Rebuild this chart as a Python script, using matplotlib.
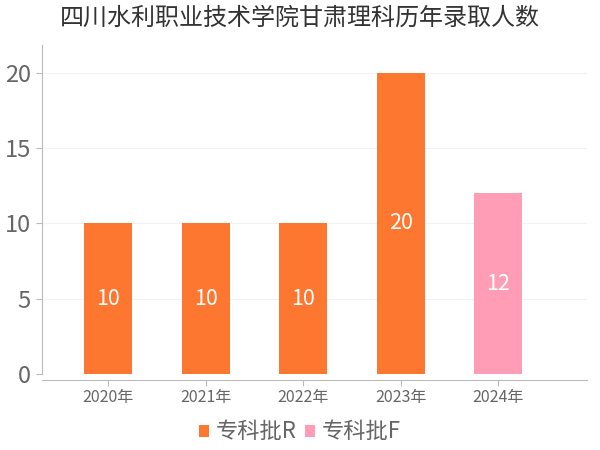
import matplotlib
matplotlib.use('Agg')
from matplotlib import pyplot as plt
from matplotlib.patches import Patch

plt.rcParams['font.family'] = ['Noto Sans CJK SC', 'DejaVu Sans']

years = ['2020年', '2021年', '2022年', '2023年', '2024年']
values = [10, 10, 10, 20, 12]
batches = ['专科批R', '专科批R', '专科批R', '专科批R', '专科批F']
colors = {'专科批R': '#FE7731', '专科批F': '#FF9DB6'}

fig = plt.figure(figsize=(6, 4.5), dpi=100)
ax = fig.add_axes([0.07, 0.169, 0.908, 0.731])

x = list(range(len(years)))
bar_colors = [colors[b] for b in batches]
bars = ax.bar(x, values, width=0.49, color=bar_colors, zorder=3)

for rect, v in zip(bars, values):
    ax.text(rect.get_x() + rect.get_width() / 2, v / 2, str(v),
            ha='center', va='center', color='white', fontsize=15.5, zorder=4)

ax.set_xlim(-0.68, 4.91)
ax.set_ylim(0, 21.86)
ax.set_yticks([0, 5, 10, 15, 20])
ax.set_xticks(x)
ax.set_xticklabels(years)

ax.grid(axis='y', color='#f2f2f2', linewidth=0.8, zorder=0)
ax.set_axisbelow(True)

for s in ['top', 'right']:
    ax.spines[s].set_visible(False)
ax.spines['left'].set_color('#bbbbbb')
ax.spines['bottom'].set_color('#bbbbbb')
ax.spines['bottom'].set_position(('outward', 4))

ax.tick_params(axis='y', length=4, color='#bbbbbb', labelsize=17, labelcolor='#666666', pad=4)
ax.tick_params(axis='x', length=4, color='#bbbbbb', labelsize=11.5, labelcolor='#666666', pad=3)

fig.suptitle('四川水利职业技术学院甘肃理科历年录取人数', x=0.5, y=0.99, fontsize=17.3, color='#333333')

handles = [Patch(facecolor=colors['专科批R']), Patch(facecolor=colors['专科批F'])]
fig.legend(handles, ['专科批R', '专科批F'], loc='center', bbox_to_anchor=(0.5, 0.04),
           ncol=2, frameon=False, fontsize=16, labelcolor='#666666',
           handlelength=0.45, handleheight=0.45, handletextpad=0.3, columnspacing=0.4)

fig.savefig('out.png', dpi=100)
